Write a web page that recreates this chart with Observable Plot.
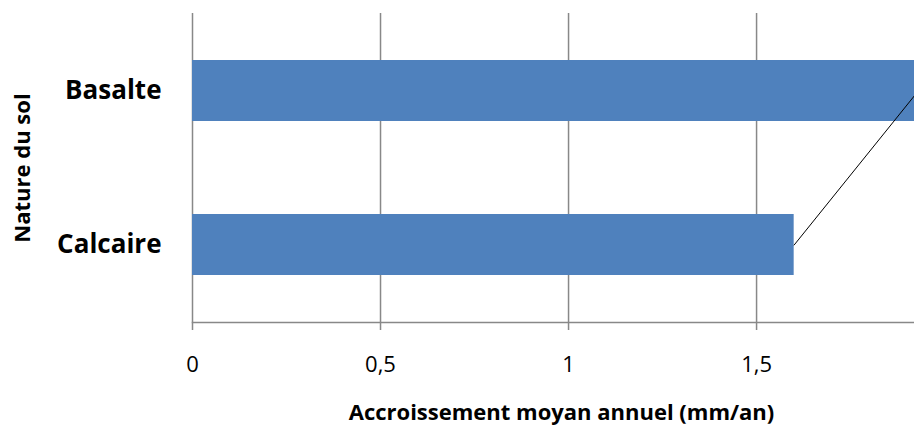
<!DOCTYPE html>
<html>
<head>
<meta charset="utf-8">
<script src="https://cdn.jsdelivr.net/npm/d3@7"></script>
<script src="https://cdn.jsdelivr.net/npm/@observablehq/plot@0.6"></script>
<style>
  html, body { margin: 0; padding: 0; background: #fff; }
  #chart { width: 914px; height: 427px; }
</style>
</head>
<body>
<div id="chart"></div>
<script>
const categories = ["Basalte", "Calcaire"];
const values = [1.93, 1.6];
const xTicks = [0, 0.5, 1, 1.5];
const xTitle = "Accroissement moyan annuel (mm/an)";
const yTitle = "Nature du sol";

const data = categories.map((c, i) => ({category: c, value: values[i]}));
const font = "'Open Sans', sans-serif";

const chart = Plot.plot({
  width: 914,
  height: 427,
  marginLeft: 192,
  marginRight: 0,
  marginTop: 13,
  marginBottom: 105,
  style: {fontFamily: font, background: "#fff", color: "#000"},
  x: {domain: [0, 1.92], label: null},
  y: {domain: categories, paddingInner: 0.605, paddingOuter: 0.3025, label: null},
  marks: [
    Plot.ruleX(xTicks, {stroke: "#888", strokeWidth: 1.5, insetBottom: -8}),
    Plot.frame({anchor: "bottom", stroke: "#888", strokeWidth: 1.5}),
    Plot.barX(data, {x: "value", y: "category", fill: "#4F81BD", clip: true}),
    Plot.line(data, {x: "value", y: "category", stroke: "#000", strokeWidth: 1, clip: true}),
    Plot.axisX({ticks: xTicks, tickSize: 0, tickPadding: 34, fontSize: 22,
      tickFormat: d => String(d).replace(".", ","), label: null}),
    Plot.axisY({tickSize: 0, tickPadding: 31, fontSize: 26, fontWeight: "bold", label: null}),
    Plot.text([yTitle], {frameAnchor: "left", textAnchor: "middle", lineAnchor: "middle", dx: -170, rotate: -90, fontSize: 22, fontWeight: "bold", fill: "#000"}),
    Plot.text([xTitle], {frameAnchor: "bottom", lineAnchor: "middle", dy: 90, dx: 8, fontSize: 22, fontWeight: "bold", fill: "#000"})
  ]
});
document.getElementById("chart").appendChild(chart);
</script>
</body>
</html>
